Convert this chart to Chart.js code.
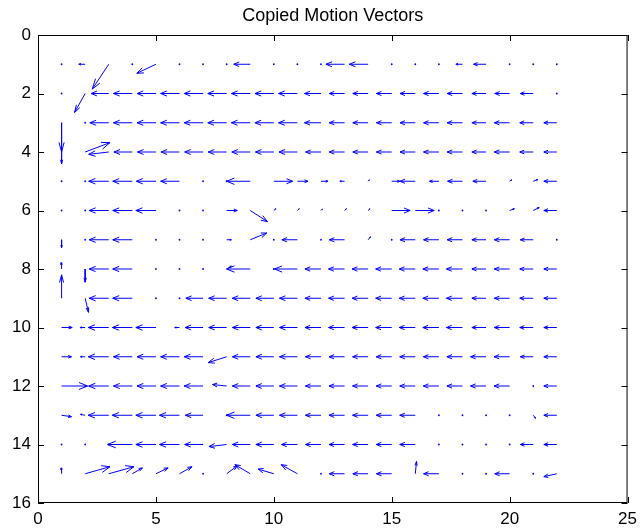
<!DOCTYPE html>
<html>
<head>
<meta charset="utf-8">
<title>Copied Motion Vectors</title>
<script src="https://cdn.jsdelivr.net/npm/chart.js@4.4.1/dist/chart.umd.min.js"></script>
<style>
  body { margin: 0; background: #fff; }
  canvas { display: block; }
</style>
</head>
<body>
<canvas id="quiverchart" width="643" height="529"></canvas>
<script>
// grid positions (1..22 across, 1..15 down)
const colsX = [1, 2, 3, 4, 5, 6, 7, 8, 9, 10, 11, 12, 13, 14, 15, 16, 17, 18, 19, 20, 21, 22];
const rowsY = [1, 2, 3, 4, 5, 6, 7, 8, 9, 10, 11, 12, 13, 14, 15];

// horizontal component of each vector, one row per y
const U = [
  [0, -0.27, -0.7, 0, -0.81, 0, 0, 0, -0.7, 0, 0, 0, -0.79, -0.8, 0, 0, 0, -0.28, -0.53, 0, 0, 0],
  [0, -0.45, -0.75, -0.8, -0.8, -0.8, -0.8, -0.8, -0.8, -0.8, -0.8, -0.7, -0.65, -0.65, -0.65, -0.65, -0.65, -0.65, -0.6, -0.63, -0.55, 0],
  [0, 0, -0.8, -0.8, -0.8, -0.8, -0.8, -0.8, -0.8, -0.8, -0.8, -0.7, -0.65, -0.65, -0.65, -0.65, -0.65, -0.65, -0.6, -0.65, -0.57, -0.55],
  [0, 1.05, -0.85, -0.78, -0.78, -0.78, -0.78, -0.78, -0.78, -0.78, -0.78, -0.65, -0.65, -0.65, -0.65, -0.65, -0.65, -0.65, -0.6, -0.65, -0.57, -0.55],
  [0, 0, -0.85, -0.83, -0.83, -0.8, 0, 0, -1.0, 0.8, 0.45, 0.3, -0.2, 0.05, 0.35, -0.65, -0.4, -0.63, -0.56, 0.08, 0.2, -0.55],
  [0, 0, -0.83, -0.83, -0.85, 0, 0, 0.45, 0.73, 0.08, 0.08, 0.06, 0.08, 0.08, 0.78, 0.8, 0, 0, 0, 0.2, 0.25, -0.55],
  [0, 0, -0.83, -0.83, 0, 0, 0, 0.2, 0.7, 0, -0.66, 0, -0.65, 0.1, 0, -0.65, -0.65, -0.65, -0.6, -0.65, -0.55, 0],
  [0, 0, -0.83, -0.83, 0, 0, 0, 0.2, -1.0, 0, -0.97, -0.68, -0.68, -0.68, -0.68, -0.68, -0.68, -0.68, -0.6, -0.65, -0.57, -0.55],
  [0, 0.14, -0.83, -0.83, 0, 0, -0.73, -0.76, -0.76, -0.76, -0.76, -0.68, -0.68, -0.68, -0.68, -0.68, -0.68, -0.68, -0.6, -0.65, -0.57, -0.55],
  [0.45, -0.22, -0.87, -0.85, -0.85, -0.2, -0.76, -0.76, -0.76, -0.76, -0.76, -0.68, -0.68, -0.68, -0.68, -0.68, -0.68, -0.68, -0.6, -0.65, -0.57, -0.55],
  [0.42, -0.2, -0.87, -0.8, -0.8, -0.8, -0.8, -0.78, -0.76, -0.76, -0.76, -0.66, -0.66, -0.66, -0.66, -0.66, -0.66, -0.66, -0.66, -0.66, -0.55, -0.55],
  [1.1, 0, -0.85, -0.8, -0.8, -0.8, -0.8, -0.6, -0.76, -0.76, -0.76, -0.66, -0.66, -0.66, -0.66, -0.66, -0.66, -0.66, -0.66, -0.66, 0, -0.55],
  [0.42, -0.2, -0.87, -0.85, -0.85, -0.85, -0.75, 0, -1.0, -0.76, -0.76, -0.66, -0.66, -0.66, -0.66, -0.66, 0, 0, 0, 0, 0.1, -0.55],
  [0, 0, 0, -1.05, -0.85, -0.85, -0.78, -0.75, -0.76, -0.76, -0.68, -0.66, -0.66, -0.66, -0.66, -0.66, 0, 0, 0, 0, -0.55, -0.55],
  [0, 1.05, 1.07, 0.43, 0.52, 0.53, 0, 0.45, -0.65, -0.67, -0.69, 0, -0.65, -0.65, -0.65, 0.05, -0.65, 0, 0, -0.63, 0, -0.55]
];

// vertical component (y axis points down)
const V = [
  [0, 0, 0.85, 0, 0.31, 0, 0, 0, 0, 0, 0, 0, 0, 0, 0, 0, 0, 0, 0, 0, 0, 0],
  [0, 0.65, 0, 0, 0, 0, 0, 0, 0, 0, 0, 0, 0, 0, 0, 0, 0, 0, 0, 0, 0, 0],
  [1.0, 0, 0, 0, 0, 0, 0, 0, 0, 0, 0, 0, 0, 0, 0, 0, 0, 0, 0, 0, 0, 0],
  [0.4, -0.32, 0.08, 0, 0, 0, 0, 0, 0, 0, 0, 0, 0, 0, 0, 0, 0, 0, 0, 0, 0, 0],
  [0, 0, 0, 0, 0, 0, 0, 0, 0, 0, 0, 0, 0, -0.05, 0, 0, 0, 0, 0, -0.05, -0.06, 0],
  [0, 0, 0, 0, 0, 0, 0, 0, 0.38, -0.06, -0.06, -0.05, -0.06, -0.06, 0, 0, 0, 0, 0, -0.06, -0.1, 0],
  [0.27, 0, 0, 0, 0, 0, 0, 0, -0.23, 0, 0, 0, 0, -0.1, 0, 0, 0, 0, 0, 0, 0, 0],
  [-0.22, 0.45, 0, 0, 0, 0, 0, -0.1, 0, 0, 0, 0, 0, 0, 0, 0, 0, 0, 0, 0, 0, 0],
  [-0.8, 0.48, 0, 0, 0, 0, 0, 0, 0, 0, 0, 0, 0, 0, 0, 0, 0, 0, 0, 0, 0, 0],
  [0, 0, 0, 0, 0, 0, 0, 0, 0, 0, 0, 0, 0, 0, 0, 0, 0, 0, 0, 0, 0, 0],
  [0, 0, 0, 0, 0, 0, 0, 0.2, 0, 0, 0, 0, 0, 0, 0, 0, 0, 0, 0, 0, 0, 0],
  [0, 0, 0, 0, 0, 0, 0, -0.05, 0, 0, 0, 0, 0, 0, 0, 0, 0, 0, 0, 0, 0, 0],
  [0.05, -0.03, 0, 0, 0, 0, 0, 0, 0, 0, 0, 0, 0, 0, 0, 0, 0, 0, 0, 0, 0.1, 0],
  [0, 0, 0, 0, 0, 0, 0, 0.07, 0, 0, 0, 0, 0, 0, 0, 0, 0, 0, 0, 0, 0, 0],
  [-0.2, -0.24, -0.24, -0.2, -0.2, -0.24, 0, -0.27, -0.31, -0.16, -0.31, 0, 0, 0, 0, -0.42, 0, 0, 0, 0, 0, 0.1]
];

const xTicks = [0, 5, 10, 15, 20, 25];
const yTicks = [0, 2, 4, 6, 8, 10, 12, 14, 16];

// arrow shafts + heads, same head rule as matlab quiver (alpha = beta = 0.33)
const alpha = 0.33, beta = 0.33;
const arrowPts = [];
const stillPts = [];
rowsY.forEach((y, r) => {
  colsX.forEach((x, c) => {
    const u = U[r][c], v = V[r][c];
    if (u === 0 && v === 0) {
      stillPts.push({ x: x, y: y });
      return;
    }
    const tx = x + u, ty = y + v;
    arrowPts.push({ x: x, y: y }, { x: tx, y: ty }, { x: null, y: null });
    arrowPts.push(
      { x: tx - alpha * (u + beta * v), y: ty - alpha * (v - beta * u) },
      { x: tx, y: ty },
      { x: tx - alpha * (u - beta * v), y: ty - alpha * (v + beta * u) },
      { x: null, y: null }
    );
  });
});

// box round the axes with inward tick marks on all four sides
const axesBox = {
  id: 'axesBox',
  afterDraw(chart) {
    const { ctx, chartArea: a, scales } = chart;
    const len = 6;
    ctx.save();
    ctx.strokeStyle = '#000';
    ctx.lineWidth = 1;
    ctx.strokeRect(a.left + 0.5, a.top + 0.5, a.right - a.left - 1, a.bottom - a.top - 1);
    ctx.beginPath();
    xTicks.forEach(t => {
      const px = Math.round(scales.x.getPixelForValue(t)) + 0.5;
      ctx.moveTo(px, a.bottom);
      ctx.lineTo(px, a.bottom - len);
      ctx.moveTo(px, a.top);
      ctx.lineTo(px, a.top + len);
    });
    yTicks.forEach(t => {
      const py = Math.round(scales.y.getPixelForValue(t)) + 0.5;
      ctx.moveTo(a.left, py);
      ctx.lineTo(a.left + len, py);
      ctx.moveTo(a.right, py);
      ctx.lineTo(a.right - len, py);
    });
    ctx.stroke();
    ctx.restore();
  }
};

Chart.defaults.font.family = "'Liberation Sans', Arial, sans-serif";
Chart.defaults.color = '#000';

const config = {
  type: 'scatter',
  data: {
    datasets: [
      {
        label: 'vectors',
        data: arrowPts,
        showLine: true,
        spanGaps: false,
        borderColor: '#0000ff',
        borderWidth: 1,
        borderJoinStyle: 'round',
        pointRadius: 0,
        pointHoverRadius: 0
      },
      {
        label: 'zero',
        data: stillPts,
        showLine: false,
        pointRadius: 0.9,
        pointBorderWidth: 0,
        pointBackgroundColor: '#0000ff'
      }
    ]
  },
  options: {
    responsive: false,
    animation: false,
    layout: { padding: { left: 0, right: 11, top: 0, bottom: 0 } },
    plugins: {
      legend: { display: false },
      tooltip: { enabled: false },
      title: {
        display: true,
        text: 'Copied Motion Vectors',
        fullSize: false,
        color: '#000',
        font: { size: 18, weight: 'normal' },
        padding: { top: 5, bottom: 8.4 }
      }
    },
    scales: {
      x: {
        type: 'linear',
        min: 0,
        max: 25,
        afterBuildTicks(scale) { scale.ticks = xTicks.map(v => ({ value: v })); },
        afterFit(scale) { scale.height = 26; },
        ticks: { color: '#000', font: { size: 17 }, padding: 6, autoSkip: false, maxRotation: 0 },
        grid: { display: false, drawTicks: false },
        border: { display: false }
      },
      y: {
        type: 'linear',
        reverse: true,
        min: 0,
        max: 16,
        afterBuildTicks(scale) { scale.ticks = yTicks.map(v => ({ value: v })); },
        afterFit(scale) { scale.width = 38; },
        ticks: { color: '#000', font: { size: 17 }, padding: 7, autoSkip: false },
        grid: { display: false, drawTicks: false },
        border: { display: false }
      }
    }
  },
  plugins: [axesBox]
};

const ctx = document.getElementById('quiverchart').getContext('2d');
const chart = new Chart(ctx, config);
</script>
</body>
</html>
